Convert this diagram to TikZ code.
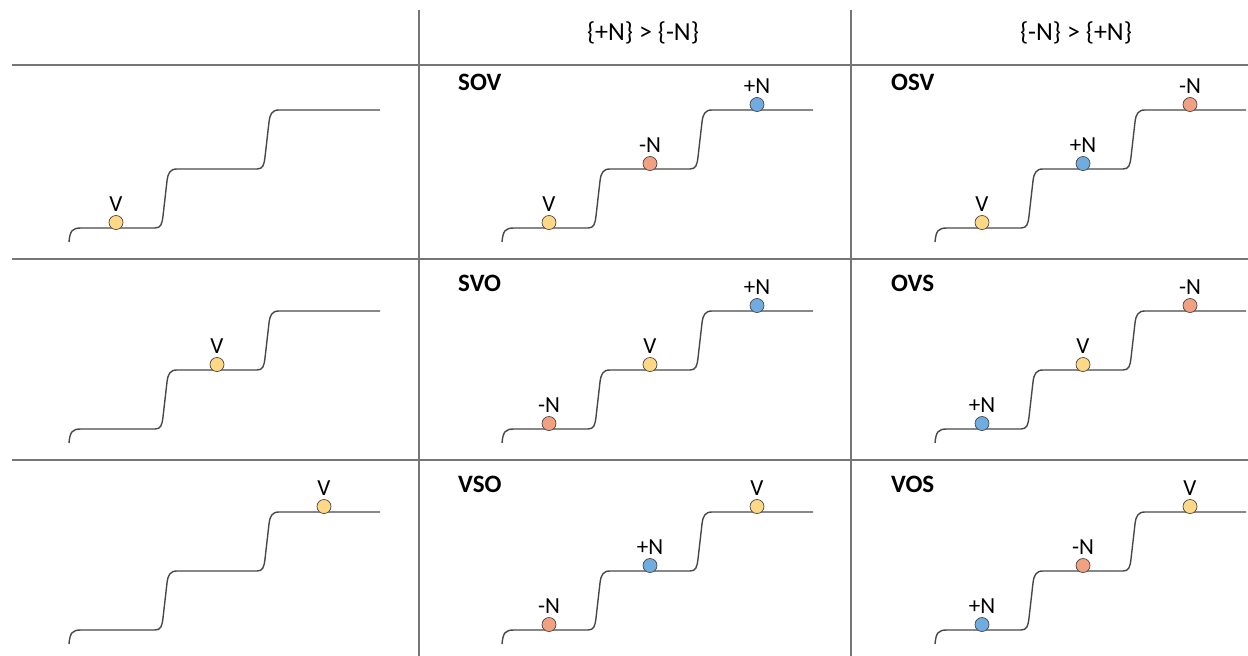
\documentclass[tikz,border=0pt]{standalone}
\usepackage{fontspec}
\setmainfont{Carlito}
\definecolor{gridc}{RGB}{118,118,118}
\definecolor{stairc}{RGB}{72,72,72}
\definecolor{cyel}{RGB}{255,216,134}
\definecolor{cred}{RGB}{241,160,130}
\definecolor{cblu}{RGB}{112,172,224}
\tikzset{
  gridline/.style={draw=gridc,line width=1.1pt},
  stair/.style={draw=stairc,line width=1.4pt},
  dotn/.style={circle,draw=stairc,line width=0.7pt,minimum size=14pt,inner sep=0pt},
  labn/.style={anchor=base,inner sep=0pt,font=\fontsize{23}{23}\selectfont},
  headn/.style={anchor=base,inner sep=0pt,font=\fontsize{26}{26}\selectfont},
  ordern/.style={anchor=base west,inner sep=0pt,font=\fontsize{25}{25}\selectfont\bfseries},
}
\newcommand\stairs{%
  \draw[stair] (0,14) .. controls (1,3) and (3,0) .. (12,0) -- (86,0)
    .. controls (92,0) and (93,-4) .. (94,-12) -- (98,-47)
    .. controls (99,-55) and (101,-59) .. (108,-59) -- (188,-59)
    .. controls (194,-59) and (195,-63) .. (196,-71) -- (200,-106)
    .. controls (201,-114) and (203,-118) .. (210,-118) -- (311,-118);}
% name, x, level, colour, text
\newcommand\dotlab[5]{%
  \node[dotn,fill=#4] (#1) at ({#2},{#3-5.5}) {};
  \node[labn] (#1t) at ({#2},{#3-16.5}) {#5};}
\begin{document}
\begin{tikzpicture}[x=1pt,y=-1pt]
\useasboundingbox (0,0) rectangle (1248,656);
% grid
\coordinate (h1a) at (12,65);  \coordinate (h1b) at (1248,65);
\coordinate (h2a) at (12,259); \coordinate (h2b) at (1248,259);
\coordinate (h3a) at (12,460); \coordinate (h3b) at (1248,460);
\coordinate (v1a) at (419,10); \coordinate (v1b) at (419,656);
\coordinate (v2a) at (851,10); \coordinate (v2b) at (851,656);
\draw[gridline] (h1a) -- (h1b);
\draw[gridline] (h2a) -- (h2b);
\draw[gridline] (h3a) -- (h3b);
\draw[gridline] (v1a) -- (v1b);
\draw[gridline] (v2a) -- (v2b);
% headers
\node[headn] (head1) at (643,40) {\{+N\} > \{-N\}};
\node[headn] (head2) at (1076,40) {\{-N\} > \{+N\}};
% column 0
\begin{scope}[shift={(69,228)}]
  \stairs
  \dotlab{a1}{47}{0}{cyel}{V}
\end{scope}
\begin{scope}[shift={(69,429)}]
  \stairs
  \dotlab{a2}{148}{-59}{cyel}{V}
\end{scope}
\begin{scope}[shift={(69,630)}]
  \stairs
  \dotlab{a3}{255}{-118}{cyel}{V}
\end{scope}
% column 1
\begin{scope}[shift={(502,228)}]
  \stairs
  \node[ordern] (o1) at (-44,-138) {SOV};
  \dotlab{b1v}{47}{0}{cyel}{V}
  \dotlab{b1m}{148}{-59}{cred}{-N}
  \dotlab{b1p}{255}{-118}{cblu}{+N}
\end{scope}
\begin{scope}[shift={(502,429)}]
  \stairs
  \node[ordern] (o2) at (-44,-138) {SVO};
  \dotlab{b2m}{47}{0}{cred}{-N}
  \dotlab{b2v}{148}{-59}{cyel}{V}
  \dotlab{b2p}{255}{-118}{cblu}{+N}
\end{scope}
\begin{scope}[shift={(502,630)}]
  \stairs
  \node[ordern] (o3) at (-44,-138) {VSO};
  \dotlab{b3m}{47}{0}{cred}{-N}
  \dotlab{b3p}{148}{-59}{cblu}{+N}
  \dotlab{b3v}{255}{-118}{cyel}{V}
\end{scope}
% column 2
\begin{scope}[shift={(935,228)}]
  \stairs
  \node[ordern] (o4) at (-44,-138) {OSV};
  \dotlab{c1v}{47}{0}{cyel}{V}
  \dotlab{c1p}{148}{-59}{cblu}{+N}
  \dotlab{c1m}{255}{-118}{cred}{-N}
\end{scope}
\begin{scope}[shift={(935,429)}]
  \stairs
  \node[ordern] (o5) at (-44,-138) {OVS};
  \dotlab{c2p}{47}{0}{cblu}{+N}
  \dotlab{c2v}{148}{-59}{cyel}{V}
  \dotlab{c2m}{255}{-118}{cred}{-N}
\end{scope}
\begin{scope}[shift={(935,630)}]
  \stairs
  \node[ordern] (o6) at (-44,-138) {VOS};
  \dotlab{c3p}{47}{0}{cblu}{+N}
  \dotlab{c3m}{148}{-59}{cred}{-N}
  \dotlab{c3v}{255}{-118}{cyel}{V}
\end{scope}
\end{tikzpicture}
\end{document}
